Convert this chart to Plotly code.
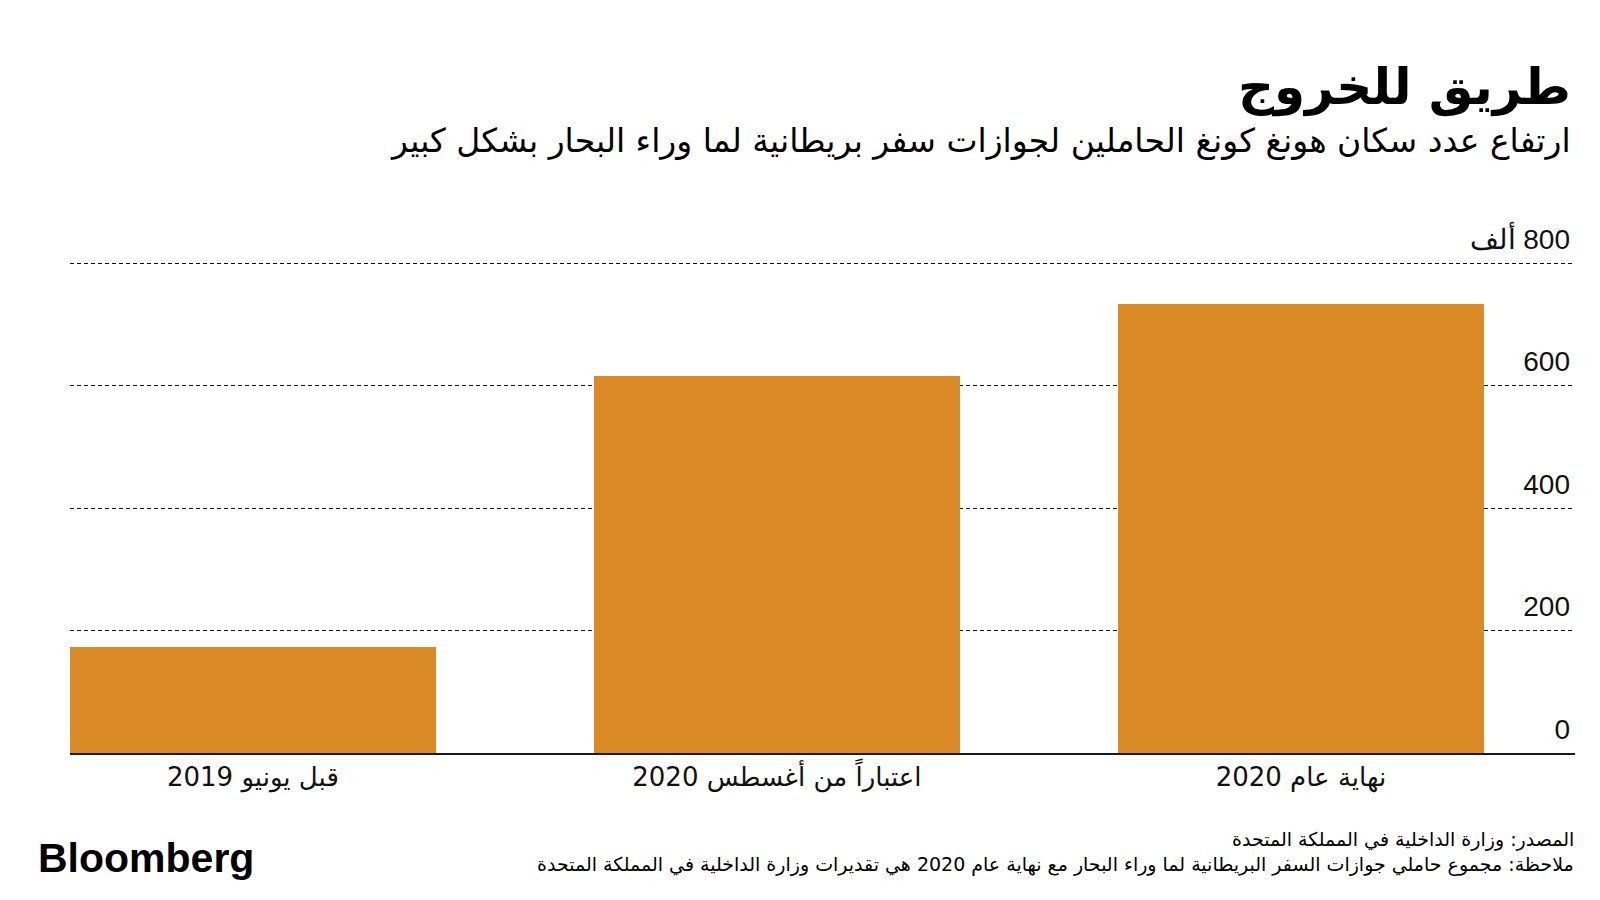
import plotly.graph_objects as go

categories = ["قبل يونيو 2019", "اعتباراً من أغسطس 2020", "نهاية عام 2020"]
values = [173, 615, 733]  # thousands of BN(O) passport holders
tick_vals = [0, 200, 400, 600, 800]
tick_text = ["0", "200", "400", "600", "\u200F800 ألف"]

title = "طريق للخروج"
subtitle = "ارتفاع عدد سكان هونغ كونغ الحاملين لجوازات سفر بريطانية لما وراء البحار بشكل كبير"
source = "المصدر: وزارة الداخلية في المملكة المتحدة"
note = "ملاحظة: مجموع حاملي جوازات السفر البريطانية لما وراء البحار مع نهاية عام 2020 هي تقديرات وزارة الداخلية في المملكة المتحدة"

BAR = "#DA8A27"
AR_FONT = "DejaVu Sans"

W, H = 1600, 900
OFF = 8  # page body margin
Y_TOP = 880
PX_PER_UNIT = (753 - 263) / 800.0
# plot area in figure pixels
L = 70 - OFF
R = 1575 - OFF
B = 753 - OFF
T = 263 - (Y_TOP - 800) * PX_PER_UNIT - OFF


def px(x):  # page pixel -> paper x
    return (x - OFF - L) / (R - L)


def py(y):  # page pixel -> paper y
    return (B - (y - OFF)) / (B - T)


fig = go.Figure()
fig.add_trace(go.Bar(
    x=[0, 1, 2], y=values, width=0.698,
    marker=dict(color=BAR, line=dict(width=0)),
    hoverinfo="skip",
))

fig.update_layout(
    width=W, height=H,
    margin=dict(l=L, r=W - R, t=T, b=H - B, pad=0),
    paper_bgcolor="white", plot_bgcolor="white",
    showlegend=False,
    bargap=0,
    xaxis=dict(
        range=[-0.349, 2.523], tickmode="array", tickvals=[0, 1, 2], ticktext=categories,
        showgrid=False, zeroline=False, showline=True, linecolor="#1a1a1a", linewidth=2,
        ticks="", ticklen=0,
        tickfont=dict(family=AR_FONT, size=26, color="#111"),
        fixedrange=True,
    ),
    yaxis=dict(
        range=[0, Y_TOP], tickmode="array", tickvals=tick_vals, ticktext=tick_text,
        side="right", ticklabelposition="inside", ticklabelshift=-24, ticklabelstandoff=2,
        showgrid=True, gridcolor="#111", gridwidth=1, griddash="4px,3px",
        zeroline=False, showline=False, ticks="",
        tickfont=dict(family="Liberation Sans, Arial, sans-serif", size=28, color="#111"),
        fixedrange=True,
    ),
)

annotations = [
    dict(text=title, x=px(1573), y=py(87), xanchor="right", yanchor="middle",
         font=dict(family=AR_FONT, size=50, color="#000", weight="bold")),
    dict(text=subtitle, x=px(1573), y=py(140), xanchor="right", yanchor="middle",
         font=dict(family=AR_FONT, size=33, color="#000")),
    dict(text="Bloomberg", x=px(36), y=py(858), xanchor="left", yanchor="middle",
         font=dict(family="Liberation Sans, Arial, sans-serif", size=41, color="#000", weight="bold")),
    dict(text=source, x=px(1576), y=py(839), xanchor="right", yanchor="middle",
         font=dict(family=AR_FONT, size=19, color="#000")),
    dict(text=note, x=px(1576), y=py(864), xanchor="right", yanchor="middle",
         font=dict(family=AR_FONT, size=19, color="#000")),
]
for a in annotations:
    a.update(xref="paper", yref="paper", showarrow=False)
fig.update_layout(annotations=annotations)

fig.write_html("out.html")
